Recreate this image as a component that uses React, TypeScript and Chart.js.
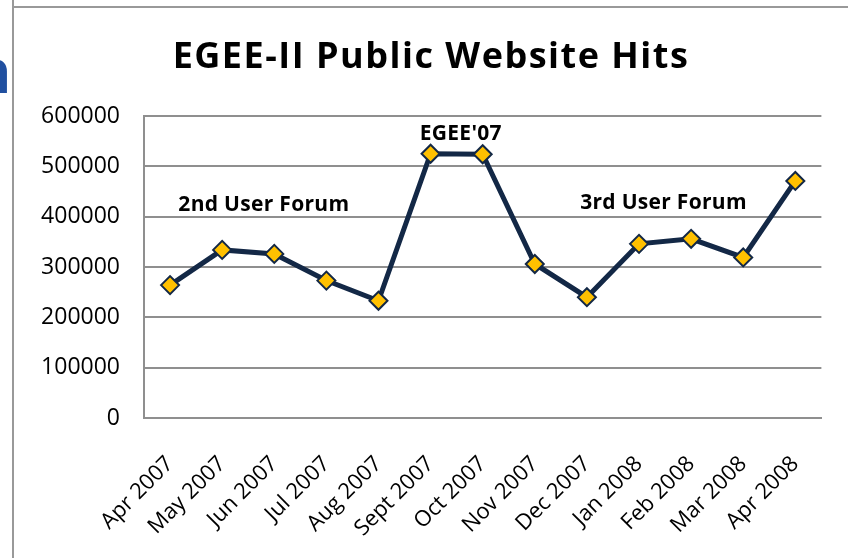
import React, { useEffect, useRef } from "react";
import { Chart, registerables } from "chart.js";

Chart.register(...registerables);

const categories: string[] = [
  "Apr 2007", "May 2007", "Jun 2007", "Jul 2007", "Aug 2007", "Sept 2007",
  "Oct 2007", "Nov 2007", "Dec 2007", "Jan 2008", "Feb 2008", "Mar 2008", "Apr 2008",
];

const hits: number[] = [
  264000, 334000, 326000, 273000, 233000, 525000,
  524000, 306000, 240000, 346000, 356000, 319000, 471000,
];

const yTicks: number[] = [0, 100000, 200000, 300000, 400000, 500000, 600000];

const titleText = "EGEE-II Public Website Hits";

// annotation labels anchored to category index (fractional) and value
const noteTexts: string[] = ["2nd User Forum", "EGEE'07", "3rd User Forum"];
const noteIndex: number[] = [1.8, 5.58, 9.47];
const noteValue: number[] = [411000, 552000, 415000];

const FONT = "'Open Sans', 'Liberation Sans', sans-serif";
const NAVY = "#132846";
const GOLD = "#FFC000";
const GRID = "#8f8f8f";

const notesPlugin = {
  id: "notes",
  afterDraw(chart: any) {
    const ctx = chart.ctx;
    const xs = chart.scales.x;
    const ys = chart.scales.y;
    ctx.save();
    ctx.fillStyle = "#000";
    ctx.textBaseline = "alphabetic";
    ctx.textAlign = "center";
    ctx.font = `bold 36px ${FONT}`;
    ctx.letterSpacing = "1.5px";
    ctx.fillText(titleText, 431, 68);
    ctx.font = `bold 21px ${FONT}`;
    ctx.letterSpacing = "0.3px";
    const i0 = xs.getPixelForValue(0);
    const step = xs.getPixelForValue(1) - i0;
    noteTexts.forEach((t, k) => {
      const x = i0 + noteIndex[k] * step;
      const y = ys.getPixelForValue(noteValue[k]);
      ctx.fillText(t, x, y);
    });
    ctx.restore();
  },
};

export default function App() {
  const ref = useRef<HTMLCanvasElement | null>(null);

  useEffect(() => {
    document.body.style.margin = "0";
    if (!ref.current) return;
    const chart = new Chart(ref.current, {
      type: "line",
      data: {
        labels: categories,
        datasets: [
          {
            label: "Hits",
            data: hits,
            borderColor: NAVY,
            borderWidth: 5,
            pointStyle: "rectRot",
            pointRadius: 9,
            pointBackgroundColor: GOLD,
            pointBorderColor: NAVY,
            pointBorderWidth: 2,
            tension: 0,
          },
        ],
      },
      options: {
        responsive: false,
        animation: false,
        layout: { padding: { top: 116, right: 26, left: 0, bottom: 0 } },
        plugins: {
          legend: { display: false },
          tooltip: { enabled: false },
          title: { display: false },
        },
        scales: {
          x: {
            offset: true,
            grid: { display: false, drawTicks: false },
            border: { color: GRID, width: 2 },
            ticks: {
              autoSkip: false,
              minRotation: 45,
              maxRotation: 45,
              padding: 33,
              color: "#000",
              font: { family: FONT, size: 22 },
            },
            afterFit: (s: any) => {
              s.height = 140;
            },
          },
          y: {
            min: 0,
            max: 600000,
            afterBuildTicks: (s: any) => {
              s.ticks = yTicks.map((v) => ({ value: v }));
            },
            grid: { color: GRID, lineWidth: 2, drawTicks: false },
            border: { color: GRID, width: 2 },
            ticks: {
              padding: 24,
              color: "#000",
              font: { family: FONT, size: 23 },
              callback: (v: any) => String(v),
            },
            afterFit: (s: any) => {
              s.width = 144;
            },
          },
        },
      },
      plugins: [notesPlugin],
    });
    return () => chart.destroy();
  }, []);

  return (
    <div
      style={{
        position: "fixed",
        left: 0,
        top: 0,
        width: 848,
        height: 558,
        background: "#fff",
        overflow: "hidden",
      }}
    >
      <div
        style={{
          position: "absolute",
          left: -28,
          top: 40,
          fontFamily: FONT,
          fontWeight: "bold",
          fontSize: 60,
          lineHeight: "60px",
          color: "#2150a0",
        }}
      >
        n
      </div>
      <div style={{ position: "absolute", left: 12, top: 0, width: 2, height: 558, background: "#999" }} />
      <div style={{ position: "absolute", left: 12, top: 6, width: 836, height: 2, background: "#999" }} />
      <canvas
        ref={ref}
        width={848}
        height={558}
        style={{ position: "absolute", left: 0, top: 0, width: 848, height: 558 }}
      />
    </div>
  );
}
